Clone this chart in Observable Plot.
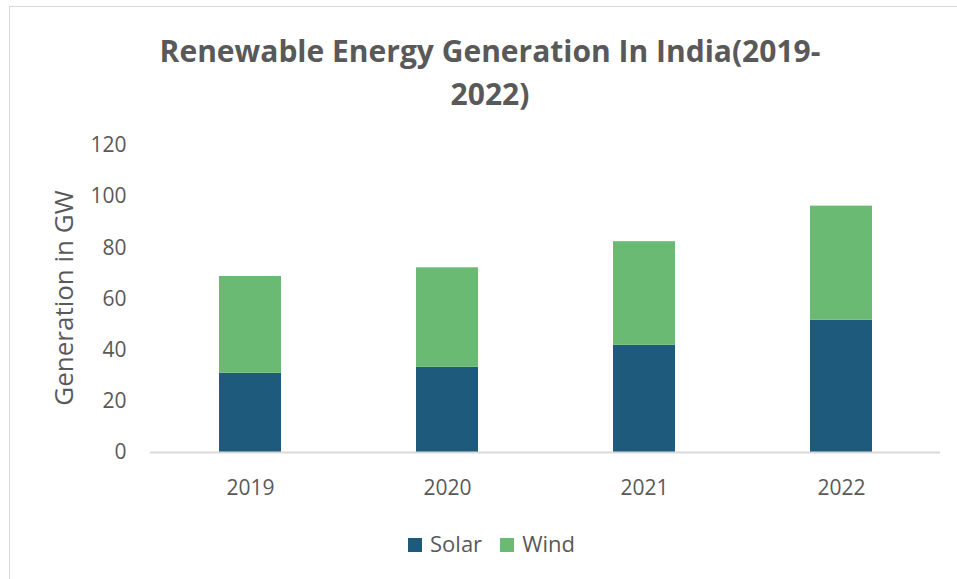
<!DOCTYPE html>
<html>
<head>
<meta charset="utf-8">
<script src="https://cdn.jsdelivr.net/npm/d3@7"></script>
<script src="https://cdn.jsdelivr.net/npm/@observablehq/plot@0.6"></script>
<style>
  html, body { margin: 0; padding: 0; background: #fff; overflow: hidden; }
  body { width: 957px; height: 579px; position: relative; font-family: "Open Sans", "Noto Sans", sans-serif; }
  #frame { position: absolute; left: 9px; top: 6px; width: 1000px; height: 700px; border: 1.5px solid #d9d9d9; box-sizing: border-box; }
  #title { position: absolute; left: 0; top: 29px; width: 980px; text-align: center; font-weight: 700; font-size: 30px; line-height: 43px; color: #595959; }
  #chart { position: absolute; left: 0; top: 120px; }
  #ylabel { position: absolute; left: 63px; top: 298px; transform: translate(-50%, -50%) rotate(-90deg); white-space: nowrap; font-size: 26px; color: #595959; line-height: 1; }
  #legend { position: absolute; left: 0; top: 528px; width: 983px; text-align: center; font-size: 22px; color: #595959; }
  .sw { display: inline-block; width: 14px; height: 14px; margin-right: 8px; vertical-align: 0px; }
  .item { display: inline-block; margin: 0 9px; }
</style>
</head>
<body>
<div id="frame"></div>
<div id="title">Renewable Energy Generation In India(2019-<br>2022)</div>
<div id="chart"></div>
<div id="ylabel"></div>
<div id="legend"></div>
<script>
const years = ["2019", "2020", "2021", "2022"];
const series = ["Solar", "Wind"];
const solar = [31.0, 33.3, 41.9, 51.7];
const wind = [37.8, 38.9, 40.5, 44.6];
const colors = ["#1e5a7c", "#6bba73"];
const yTicks = [0, 20, 40, 60, 80, 100, 120];
const yLabel = "Generation in GW";

const rows = [];
years.forEach((y, i) => {
  rows.push({year: y, series: "Solar", value: solar[i]});
  rows.push({year: y, series: "Wind", value: wind[i]});
});

const chart = Plot.plot({
  width: 957,
  height: 387,
  marginLeft: 150,
  marginRight: 17,
  marginTop: 25,
  marginBottom: 55,
  style: { fontFamily: "'Open Sans', 'Noto Sans', sans-serif", color: "#595959", background: "transparent" },
  x: { domain: years, paddingInner: 0.686, paddingOuter: 0.343, label: null },
  y: { domain: [0, 120], label: null },
  color: { domain: series, range: colors },
  marks: [
    Plot.barY(rows, { x: "year", y: "value", fill: "series", order: series }),
    Plot.ruleY([0], { stroke: "#d9d9d9", strokeWidth: 2 }),
    Plot.axisY(yTicks, { tickSize: 0, tickPadding: 24, fontSize: 21, fill: "#595959", label: null }),
    Plot.axisX({ tickSize: 0, tickPadding: 28, fontSize: 21, fill: "#595959", label: null })
  ]
});
document.getElementById("chart").appendChild(chart);
document.getElementById("ylabel").textContent = yLabel;

const legend = document.getElementById("legend");
series.forEach((s, i) => {
  const item = document.createElement("span");
  item.className = "item";
  const sw = document.createElement("span");
  sw.className = "sw";
  sw.style.background = colors[i];
  item.appendChild(sw);
  item.appendChild(document.createTextNode(s));
  legend.appendChild(item);
});
</script>
</body>
</html>
